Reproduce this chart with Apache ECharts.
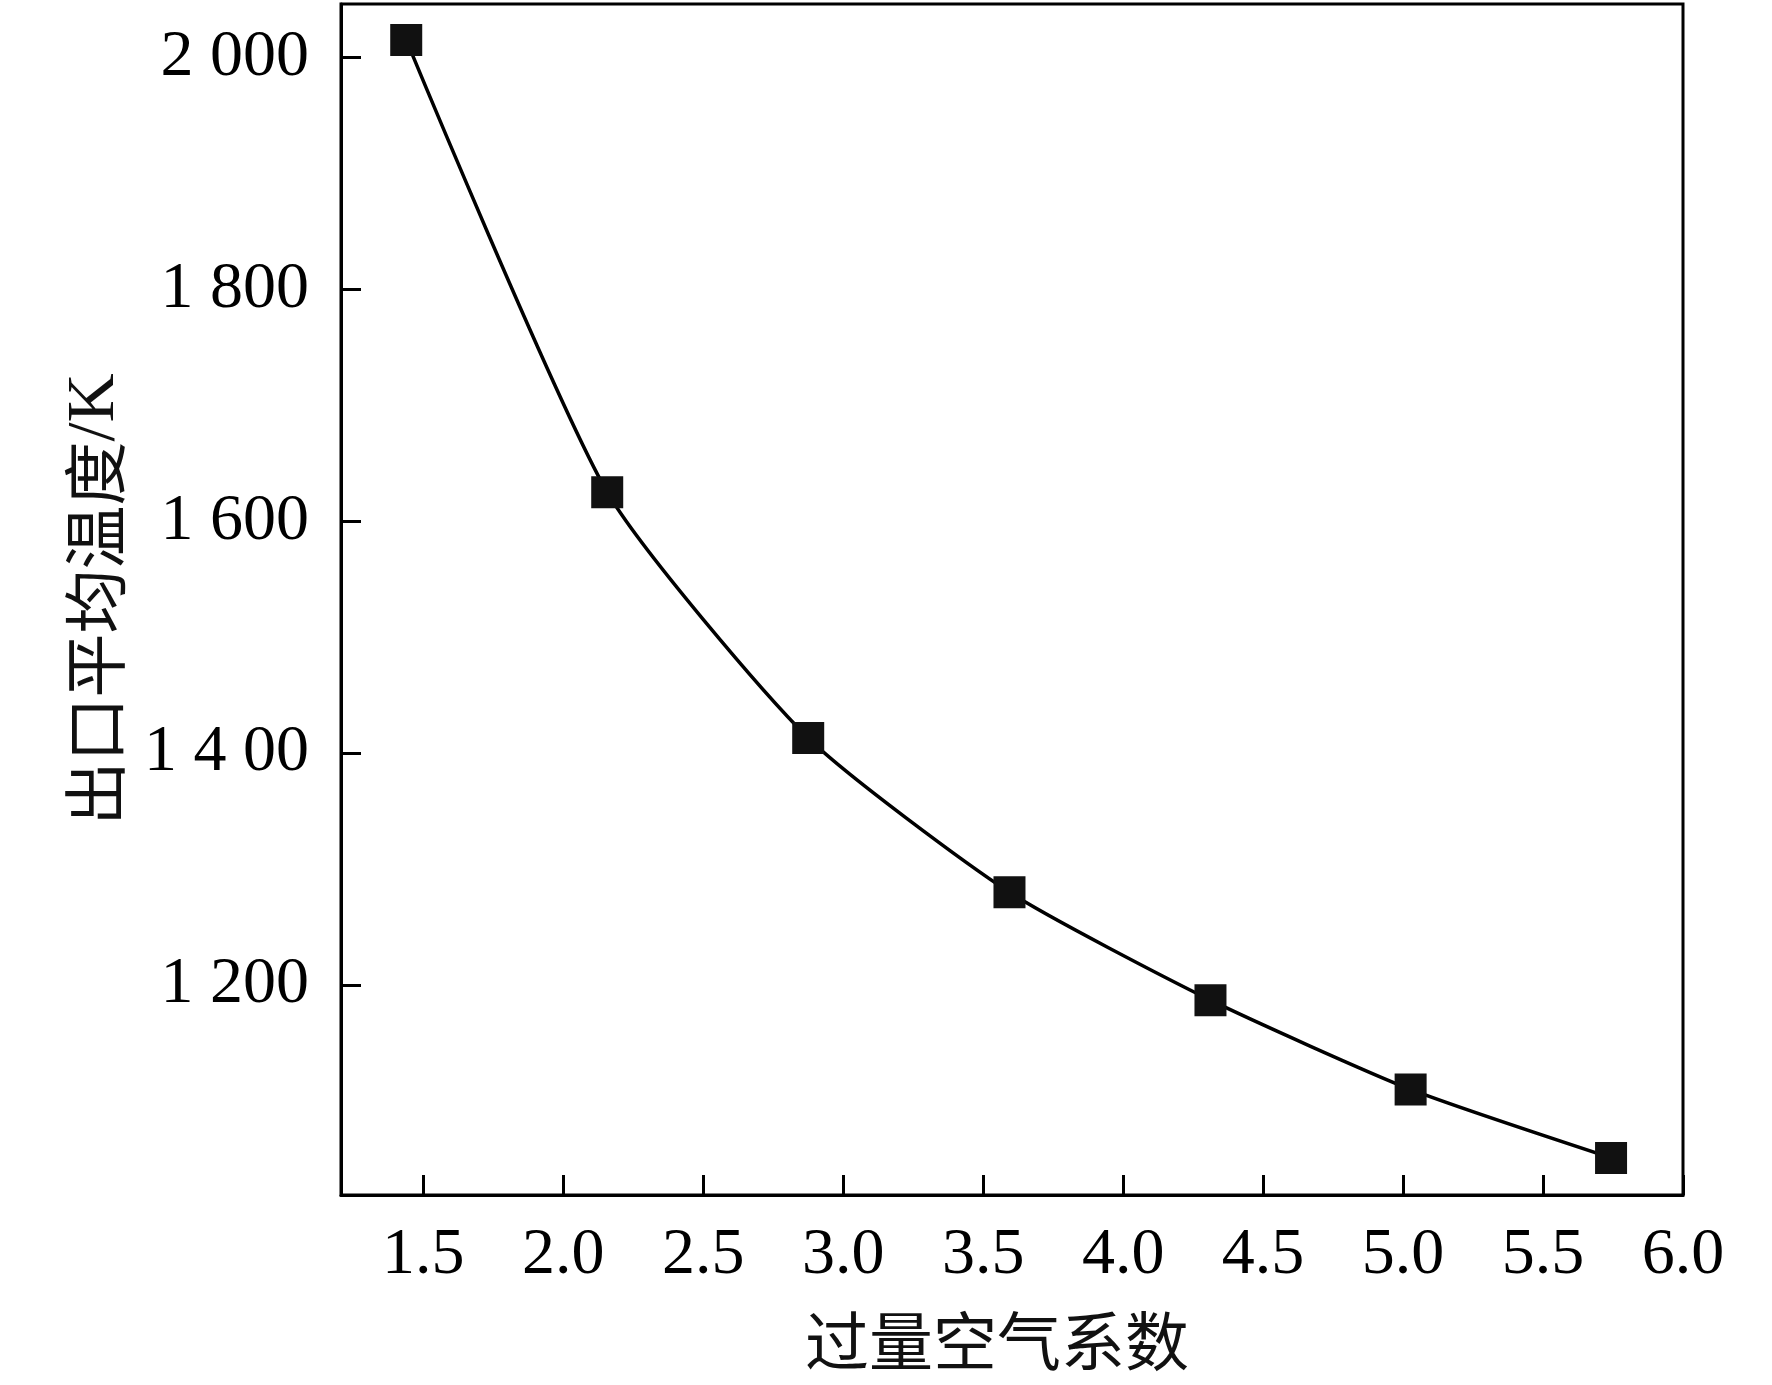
<!DOCTYPE html>
<html>
<head>
<meta charset="utf-8">
<script src="https://cdn.jsdelivr.net/npm/echarts@6/dist/echarts.min.js"></script>
<style>
  html, body { margin: 0; padding: 0; background: #fff; }
  #main { width: 1772px; height: 1385px; }
</style>
</head>
<body>
<div id="main"></div>
<script>
// 过量空气系数 vs 出口平均温度
var excessAir = [1.439, 2.157, 2.875, 3.594, 4.312, 5.027, 5.743];
var outletTemp = [2015, 1625, 1413, 1280, 1187, 1110, 1051];

var xTicks = [1.5, 2.0, 2.5, 3.0, 3.5, 4.0, 4.5, 5.0, 5.5, 6.0];
var yTicks = [1200, 1400, 1600, 1800, 2000];
var yTickLabels = ['1 200', '1 4 00', '1 600', '1 800', '2 000'];

var serif = '"Liberation Serif", "Times New Roman", serif';
var cjk = '"Noto Sans CJK SC", sans-serif';

var myChart = echarts.init(document.getElementById('main'));

var points = excessAir.map(function (x, i) { return [x, outletTemp[i]]; });

myChart.setOption({
    animation: false,
    backgroundColor: '#fff',
    grid: {
        left: 341, right: 89, top: 4, bottom: 190,
        show: true, borderColor: '#000', borderWidth: 3
    },
    xAxis: {
        type: 'value',
        min: 1.206, max: 6.0,
        name: '过量空气系数',
        nameLocation: 'middle',
        nameGap: 114,
        nameTextStyle: { fontFamily: cjk, fontSize: 64, color: '#111', padding: [0, 30, 0, 0] },
        splitLine: { show: false },
        axisLine: { show: true, lineStyle: { color: '#000', width: 3 } },
        axisTick: {
            show: true, inside: true, length: 20,
            lineStyle: { color: '#000', width: 3 },
            customValues: xTicks
        },
        axisLabel: {
            margin: 28,
            fontFamily: serif, fontSize: 66, color: '#000',
            customValues: xTicks,
            formatter: function (v) { return v.toFixed(1); }
        }
    },
    yAxis: {
        type: 'value',
        min: 1019, max: 2046,
        name: '出口平均温度{k|/K}',
        nameLocation: 'middle',
        nameGap: 212,
        nameTextStyle: {
            fontFamily: cjk, fontSize: 64, color: '#111',
            rich: { k: { fontFamily: serif, fontSize: 68, color: '#111' } }
        },
        splitLine: { show: false },
        axisLine: { show: true, lineStyle: { color: '#000', width: 3 } },
        axisTick: {
            show: true, inside: true, length: 20,
            lineStyle: { color: '#000', width: 3 },
            customValues: yTicks
        },
        axisLabel: {
            margin: 32,
            fontFamily: serif, fontSize: 66, color: '#000',
            customValues: yTicks,
            formatter: function (v) {
                var i = yTicks.indexOf(Math.round(v));
                return i >= 0 ? yTickLabels[i] : '';
            }
        }
    },
    series: [{
        type: 'line',
        data: points,
        smooth: 0.2,
        symbol: 'rect',
        symbolSize: 32,
        itemStyle: { color: '#111' },
        lineStyle: { color: '#000', width: 3.5 },
        z: 3
    }]
});
</script>
</body>
</html>
